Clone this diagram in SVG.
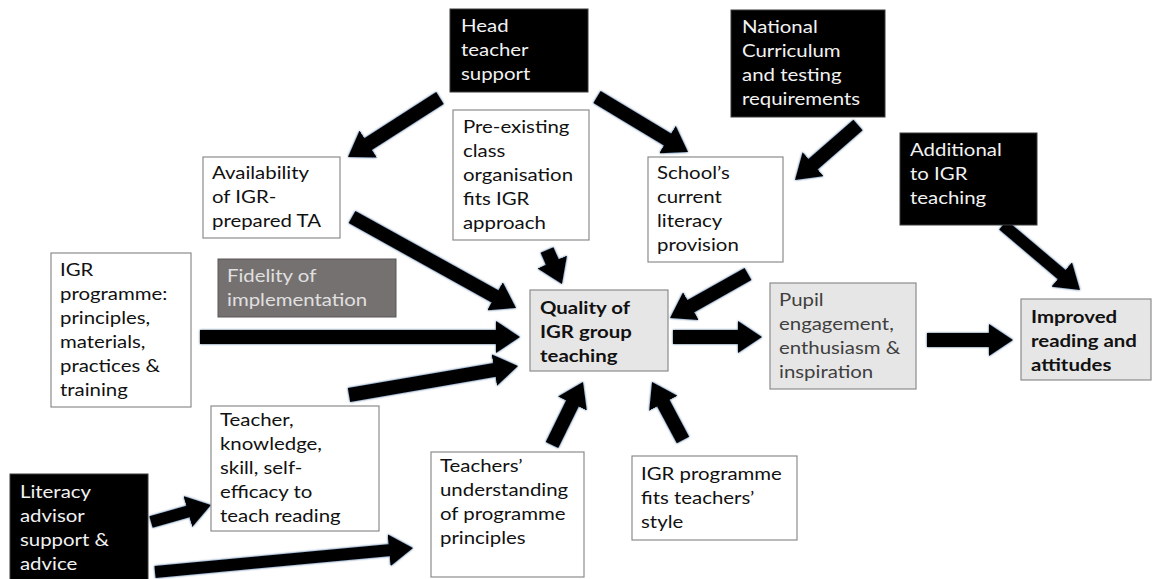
<svg xmlns="http://www.w3.org/2000/svg" width="1153" height="579" viewBox="0 0 1153 579">
<style>
  text { font-family: Lato, "Open Sans", "Liberation Sans", sans-serif; font-size: 17px; transform-box: fill-box; transform-origin: 0 50%; transform: scaleX(1.2); }
  .wb { fill: #ffffff; stroke: #8c8c8c; stroke-width: 1.2; }
  .bb { fill: #000000; stroke: #3a3a3a; stroke-width: 1; }
  .gb { fill: #e7e6e6; stroke: #8c8c8c; stroke-width: 1.2; }
  .fb { fill: #767171; stroke: #5a5656; stroke-width: 1; }
  .tw { fill: #f2f2f2; }
  .tk { fill: #111111; }
  .tg { fill: #3f3f3f; }
  .tf { fill: #e0e0e0; }
  .bold { font-weight: bold; }
  .arr { stroke: #000000; stroke-width: 14; fill: none; marker-end: url(#ah); }
  .thin { stroke-width: 12; }
</style>
<defs>
  <marker id="ah" markerUnits="userSpaceOnUse" markerWidth="24" markerHeight="32" viewBox="0 0 24 32" refX="2" refY="16" orient="auto">
    <path d="M0,0 L24,16 L0,32 z" fill="#000000"/>
  </marker>
  <filter id="glow" x="-10%" y="-10%" width="120%" height="120%">
    <feGaussianBlur in="SourceAlpha" stdDeviation="1"/>
    <feComponentTransfer><feFuncA type="linear" slope="1.5"/></feComponentTransfer>
    <feFlood flood-color="#2f5580"/>
    <feComposite operator="in" in2="SourceAlpha"/>
    <feGaussianBlur stdDeviation="0.8"/>
    <feMerge><feMergeNode/><feMergeNode in="SourceGraphic"/></feMerge>
  </filter>
</defs>
<rect width="1153" height="579" fill="#ffffff"/>

<g id="connectors" filter="url(#glow)">
  <line class="arr" x1="440" y1="98" x2="366.5" y2="145.1"/>
  <line class="arr" x1="597" y1="97" x2="669.2" y2="140.6"/>
  <line class="arr" x1="858" y1="125" x2="811.6" y2="165.5"/>
  <line class="arr thin" x1="1003" y1="225" x2="1063.2" y2="275.8"/>
  <line class="arr" x1="352" y1="217" x2="496.8" y2="297.3"/>
  <line class="arr" x1="547" y1="250" x2="553.1" y2="263.9"/>
  <line class="arr" x1="748" y1="274" x2="689.2" y2="307.2"/>
  <line class="arr" x1="200" y1="337" x2="498" y2="337"/>
  <line class="arr" x1="349" y1="395" x2="496.3" y2="369.7"/>
  <line class="arr" x1="552" y1="445" x2="573.3" y2="401.7"/>
  <line class="arr" x1="683" y1="440" x2="662.4" y2="401.4"/>
  <line class="arr" x1="673" y1="337" x2="740" y2="337"/>
  <line class="arr" x1="927" y1="340" x2="991" y2="340"/>
  <line class="arr thin" x1="151" y1="522" x2="189.8" y2="511"/>
  <line class="arr thin" x1="155" y1="572" x2="391.1" y2="550"/>
</g>

<g id="head-teacher">
  <rect class="bb" x="450" y="9" width="138" height="83"/>
  <text class="tw" x="461" y="32">Head</text>
  <text class="tw" x="461" y="56">teacher</text>
  <text class="tw" x="461" y="80">support</text>
</g>
<g id="national-curriculum">
  <rect class="bb" x="731" y="10" width="154" height="107"/>
  <text class="tw" x="742" y="33">National</text>
  <text class="tw" x="742" y="57">Curriculum</text>
  <text class="tw" x="742" y="81">and testing</text>
  <text class="tw" x="742" y="105">requirements</text>
</g>
<g id="pre-existing">
  <rect class="wb" x="453" y="110" width="136" height="130"/>
  <text class="tk" x="463" y="133">Pre-existing</text>
  <text class="tk" x="463" y="157">class</text>
  <text class="tk" x="463" y="181">organisation</text>
  <text class="tk" x="463" y="205">fits IGR</text>
  <text class="tk" x="463" y="229">approach</text>
</g>
<g id="availability">
  <rect class="wb" x="203" y="157" width="137" height="81"/>
  <text class="tk" x="212" y="179">Availability</text>
  <text class="tk" x="212" y="203">of IGR-</text>
  <text class="tk" x="212" y="227">prepared TA</text>
</g>
<g id="schools-provision">
  <rect class="wb" x="648" y="157" width="135" height="105"/>
  <text class="tk" x="657" y="179">School’s</text>
  <text class="tk" x="657" y="203">current</text>
  <text class="tk" x="657" y="227">literacy</text>
  <text class="tk" x="657" y="251">provision</text>
</g>
<g id="additional">
  <rect class="bb" x="900" y="133" width="137" height="92"/>
  <text class="tw" x="910" y="156">Additional</text>
  <text class="tw" x="910" y="180">to IGR</text>
  <text class="tw" x="910" y="204">teaching</text>
</g>
<g id="igr-programme">
  <rect class="wb" x="51" y="253" width="140" height="154"/>
  <text class="tk" x="60" y="276">IGR</text>
  <text class="tk" x="60" y="300">programme:</text>
  <text class="tk" x="60" y="324">principles,</text>
  <text class="tk" x="60" y="348">materials,</text>
  <text class="tk" x="60" y="372">practices &amp;</text>
  <text class="tk" x="60" y="396">training</text>
</g>
<g id="fidelity">
  <rect class="fb" x="218" y="259" width="178" height="58"/>
  <text class="tf" x="227" y="282">Fidelity of</text>
  <text class="tf" x="227" y="306">implementation</text>
</g>
<g id="quality">
  <rect class="gb" x="530" y="290" width="138" height="81"/>
  <text class="tk bold" x="540" y="314">Quality of</text>
  <text class="tk bold" x="540" y="338">IGR group</text>
  <text class="tk bold" x="540" y="362">teaching</text>
</g>
<g id="pupil-engagement">
  <rect class="gb" x="770" y="283" width="146" height="106"/>
  <text class="tg" x="779" y="306">Pupil</text>
  <text class="tg" x="779" y="330">engagement,</text>
  <text class="tg" x="779" y="354">enthusiasm &amp;</text>
  <text class="tg" x="779" y="378">inspiration</text>
</g>
<g id="improved">
  <rect class="gb" x="1021" y="299" width="130" height="81"/>
  <text class="tk bold" x="1031" y="323">Improved</text>
  <text class="tk bold" x="1031" y="347">reading and</text>
  <text class="tk bold" x="1031" y="371">attitudes</text>
</g>
<g id="teacher-knowledge">
  <rect class="wb" x="211" y="406" width="168" height="125"/>
  <text class="tk" x="220" y="426">Teacher,</text>
  <text class="tk" x="220" y="450">knowledge,</text>
  <text class="tk" x="220" y="474">skill, self-</text>
  <text class="tk" x="220" y="498">efficacy to</text>
  <text class="tk" x="220" y="522">teach reading</text>
</g>
<g id="teachers-understanding">
  <rect class="wb" x="431" y="452" width="153" height="125"/>
  <text class="tk" x="440" y="472">Teachers’</text>
  <text class="tk" x="440" y="496">understanding</text>
  <text class="tk" x="440" y="520">of programme</text>
  <text class="tk" x="440" y="544">principles</text>
</g>
<g id="igr-fits">
  <rect class="wb" x="632" y="456" width="165" height="84"/>
  <text class="tk" x="641" y="480">IGR programme</text>
  <text class="tk" x="641" y="504">fits teachers’</text>
  <text class="tk" x="641" y="528">style</text>
</g>
<g id="literacy-advisor">
  <rect class="bb" x="10" y="474" width="138" height="110"/>
  <text class="tw" x="20" y="498">Literacy</text>
  <text class="tw" x="20" y="522">advisor</text>
  <text class="tw" x="20" y="546">support &amp;</text>
  <text class="tw" x="20" y="570">advice</text>
</g>
</svg>
